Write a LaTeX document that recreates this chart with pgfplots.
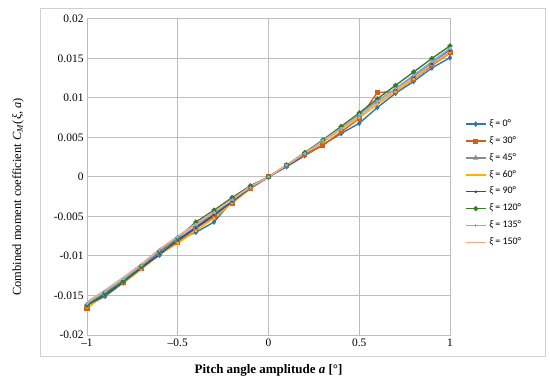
\documentclass[border=0pt]{standalone}
\usepackage{fontspec}
\setmainfont{Liberation Serif}
\newfontfamily\legfont{Carlito}
\usepackage{pgfplots}
\pgfplotsset{compat=1.18}
\definecolor{c0}{HTML}{2E75B6}
\definecolor{c30}{HTML}{D35F1B}
\definecolor{c45}{HTML}{8C8C8C}
\definecolor{c60}{HTML}{FFB300}
\definecolor{c90}{HTML}{2F4E8F}
\definecolor{c120}{HTML}{3C7A2A}
\definecolor{c135}{HTML}{7FB0E0}
\definecolor{c150}{HTML}{F2A98A}
\definecolor{gridc}{HTML}{BDBDBD}
\begin{document}
\begin{tikzpicture}
\useasboundingbox (0bp,0bp) rectangle (550bp,383bp);
\draw[color=gridc!70, line width=1bp] (40bp,26bp) rectangle (545bp,374bp);
\begin{axis}[
  at={(87bp,48bp)}, anchor=south west, scale only axis,
  width=363bp, height=316bp,
  xmin=-1, xmax=1, ymin=-0.02, ymax=0.02,
  xtick={-1,-0.5,0,0.5,1}, xticklabels={–1,–0.5,0,0.5,1},
  ytick={-0.02,-0.015,-0.01,-0.005,0,0.005,0.01,0.015,0.02},
  yticklabels={-0.02,-0.015,-0.01,-0.005,0,0.005,0.01,0.015,0.02},
  grid=major, grid style={color=gridc, line width=1bp},
  axis line style={color=gridc, line width=1bp},
  tick style={draw=none},
  ticklabel style={font=\fontsize{11.5}{13}\selectfont},
  scaled y ticks=false,
  xlabel={Pitch angle amplitude \textit{a} [°]},
  xlabel style={font=\bfseries\fontsize{13}{15}\selectfont, at={(axis description cs:0.5,-0.111)}, anchor=center},
  ylabel={Combined moment coefficient \textit{C}\textsubscript{\textit{M}}(\textit{ξ}, \textit{a})},
  ylabel style={font=\fontsize{12.5}{14}\selectfont, at={(axis description cs:-0.19,0.437)}, anchor=center, rotate=0},
  legend style={draw=none, fill=none, at={(1.041,0.683)}, anchor=north west,
    font=\legfont\fontsize{10}{11}\selectfont, row sep=7.4bp, inner sep=0pt,
    nodes={inner sep=0pt, text height=7bp, text depth=2.5bp},
    /tikz/every odd column/.append style={column sep=3bp}},
  legend cell align=left,
  legend image code/.code={\draw[mark repeat=2,mark phase=2,#1] plot coordinates {(0cm,0cm) (0.35cm,0cm) (0.7cm,0cm)};},
  every axis plot/.append style={line width=1.4bp, mark size=1.8bp},
]
\addplot[c0, mark=diamond*] coordinates {(-1,-0.0163)(-0.9,-0.0151)(-0.8,-0.0134)(-0.7,-0.0115)(-0.6,-0.0099)(-0.5,-0.0080)(-0.4,-0.0070)(-0.3,-0.0057)(-0.2,-0.0030)(-0.1,-0.0013)(0,0)(0.1,0.0013)(0.2,0.0027)(0.3,0.0041)(0.4,0.0055)(0.5,0.0068)(0.6,0.0088)(0.7,0.0106)(0.8,0.0121)(0.9,0.0138)(1,0.0151)};
\addlegendentry{\itshape ξ\upshape\ = 0°}
\addplot[c30, mark=square*] coordinates {(-1,-0.0166)(-0.9,-0.0148)(-0.8,-0.0133)(-0.7,-0.0116)(-0.6,-0.0097)(-0.5,-0.0083)(-0.4,-0.0065)(-0.3,-0.0050)(-0.2,-0.0033)(-0.1,-0.0014)(0,0)(0.1,0.0014)(0.2,0.0028)(0.3,0.0040)(0.4,0.0057)(0.5,0.0074)(0.6,0.0107)(0.7,0.0108)(0.8,0.0124)(0.9,0.0141)(1,0.0157)};
\addlegendentry{\itshape ξ\upshape\ = 30°}
\addplot[c45, mark=triangle*] coordinates {(-1,-0.0163)(-0.9,-0.0148)(-0.8,-0.0131)(-0.7,-0.0114)(-0.6,-0.0095)(-0.5,-0.0079)(-0.4,-0.0063)(-0.3,-0.0046)(-0.2,-0.0030)(-0.1,-0.0014)(0,0)(0.1,0.0015)(0.2,0.0030)(0.3,0.0045)(0.4,0.0061)(0.5,0.0078)(0.6,0.0095)(0.7,0.0112)(0.8,0.0128)(0.9,0.0145)(1,0.0162)};
\addlegendentry{\itshape ξ\upshape\ = 45°}
\addplot[c60, mark=x, mark size=1.2bp] coordinates {(-1,-0.0165)(-0.9,-0.0150)(-0.8,-0.0134)(-0.7,-0.0117)(-0.6,-0.0098)(-0.5,-0.0084)(-0.4,-0.0068)(-0.3,-0.0052)(-0.2,-0.0033)(-0.1,-0.0015)(0,0)(0.1,0.0015)(0.2,0.0029)(0.3,0.0044)(0.4,0.0060)(0.5,0.0075)(0.6,0.0092)(0.7,0.0108)(0.8,0.0124)(0.9,0.0142)(1,0.0158)};
\addlegendentry{\itshape ξ\upshape\ = 60°}
\addplot[c90, mark=asterisk, mark size=1.2bp] coordinates {(-1,-0.0162)(-0.9,-0.0150)(-0.8,-0.0133)(-0.7,-0.0115)(-0.6,-0.0098)(-0.5,-0.0080)(-0.4,-0.0064)(-0.3,-0.0048)(-0.2,-0.0031)(-0.1,-0.0014)(0,0)(0.1,0.0014)(0.2,0.0029)(0.3,0.0046)(0.4,0.0062)(0.5,0.0080)(0.6,0.0096)(0.7,0.0111)(0.8,0.0127)(0.9,0.0143)(1,0.0160)};
\addlegendentry{\itshape ξ\upshape\ = 90°}
\addplot[c120, mark=*] coordinates {(-1,-0.0162)(-0.9,-0.0147)(-0.8,-0.0132)(-0.7,-0.0113)(-0.6,-0.0094)(-0.5,-0.0077)(-0.4,-0.0057)(-0.3,-0.0042)(-0.2,-0.0026)(-0.1,-0.0011)(0,0)(0.1,0.0015)(0.2,0.0031)(0.3,0.0047)(0.4,0.0064)(0.5,0.0081)(0.6,0.0099)(0.7,0.0116)(0.8,0.0133)(0.9,0.0150)(1,0.0166)};
\addlegendentry{\itshape ξ\upshape\ = 120°}
\addplot[c135, mark=+, mark size=1.5bp] coordinates {(-1,-0.0160)(-0.9,-0.0145)(-0.8,-0.0129)(-0.7,-0.0112)(-0.6,-0.0093)(-0.5,-0.0076)(-0.4,-0.0060)(-0.3,-0.0045)(-0.2,-0.0029)(-0.1,-0.0013)(0,0)(0.1,0.0015)(0.2,0.0030)(0.3,0.0046)(0.4,0.0062)(0.5,0.0079)(0.6,0.0096)(0.7,0.0112)(0.8,0.0129)(0.9,0.0146)(1,0.0163)};
\addlegendentry{\itshape ξ\upshape\ = 135°}
\addplot[c150, mark=none] coordinates {(-1,-0.0158)(-0.9,-0.0143)(-0.8,-0.0127)(-0.7,-0.0110)(-0.6,-0.0091)(-0.5,-0.0075)(-0.4,-0.0059)(-0.3,-0.0044)(-0.2,-0.0028)(-0.1,-0.0012)(0,0)(0.1,0.0015)(0.2,0.0030)(0.3,0.0045)(0.4,0.0061)(0.5,0.0077)(0.6,0.0094)(0.7,0.0110)(0.8,0.0126)(0.9,0.0143)(1,0.0159)};
\addlegendentry{\itshape ξ\upshape\ = 150°}
\end{axis}
\end{tikzpicture}
\end{document}
